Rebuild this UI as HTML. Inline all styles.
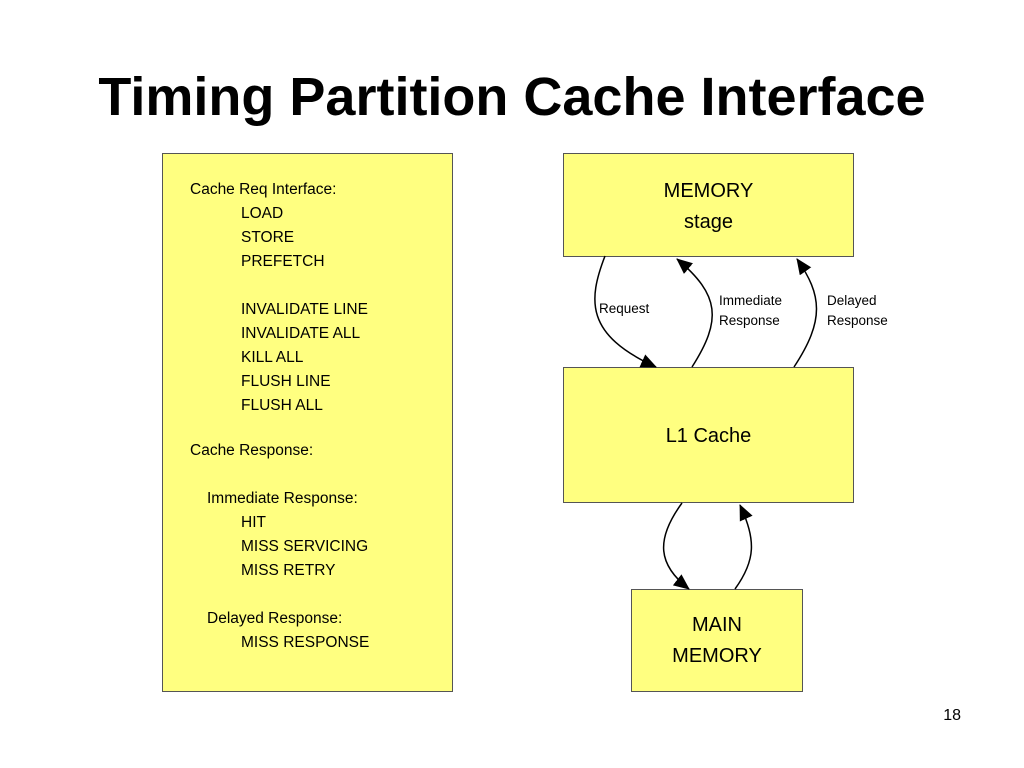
<!DOCTYPE html>
<html><head><style>
body{margin:0;width:1024px;height:768px;background:#fff;position:relative;font-family:"Liberation Sans",sans-serif;overflow:hidden}
.t{position:absolute;left:0;width:1024px;top:66px;text-align:center;font-weight:bold;font-size:54px;letter-spacing:0px}
.b{position:absolute;background:#ffff80;border:1px solid #555;box-sizing:border-box}
.c{text-align:center;font-size:20px;line-height:31px}
.x{position:absolute;font-size:15.5px;line-height:24px;white-space:nowrap}
.s{position:absolute;font-size:13.5px;line-height:20px}
</style></head><body>
<div class="t">Timing Partition Cache Interface</div>
<div class="b" style="left:162px;top:153px;width:291px;height:539px"></div>
<div class="x" style="left:190px;top:178px">Cache Req Interface:</div>
<div class="x" style="left:241px;top:202px">LOAD<br>STORE<br>PREFETCH<br><br>INVALIDATE LINE<br>INVALIDATE ALL<br>KILL ALL<br>FLUSH LINE<br>FLUSH ALL</div>
<div class="x" style="left:190px;top:439px">Cache Response:</div>
<div class="x" style="left:207px;top:487px">Immediate Response:</div>
<div class="x" style="left:241px;top:511px">HIT<br>MISS SERVICING<br>MISS RETRY</div>
<div class="x" style="left:207px;top:607px">Delayed Response:</div>
<div class="x" style="left:241px;top:631px">MISS RESPONSE</div>
<div class="b c" style="left:563px;top:153px;width:291px;height:104px;padding-top:22px">MEMORY<br>stage</div>
<div class="b c" style="left:563px;top:367px;width:291px;height:136px;padding-top:53px">L1 Cache</div>
<div class="b c" style="left:631px;top:589px;width:172px;height:103px;padding-top:20px">MAIN<br>MEMORY</div>
<div class="s" style="left:599px;top:299px">Request</div>
<div class="s" style="left:719px;top:291px">Immediate<br>Response</div>
<div class="s" style="left:827px;top:291px">Delayed<br>Response</div>
<div style="position:absolute;right:63px;top:707px;font-size:16px">18</div>
<svg width="1024" height="768" style="position:absolute;left:0;top:0">
<defs><marker id="a" markerWidth="16" markerHeight="14" refX="15" refY="7" orient="auto" markerUnits="userSpaceOnUse"><path d="M0,0L16,7L0,14z"/></marker></defs>
<g fill="none" stroke="#000" stroke-width="1.5" marker-end="url(#a)">
<path d="M605,256 C588,300 585,335 656,367"/>
<path d="M692,367 C722,320 720,295 677,259"/>
<path d="M794,367 C825,320 822,295 797,259"/>
<path d="M682,503 C655,540 658,565 689,589"/>
<path d="M735,589 C756,560 756,540 740,505"/>
</g></svg>
</body></html>
